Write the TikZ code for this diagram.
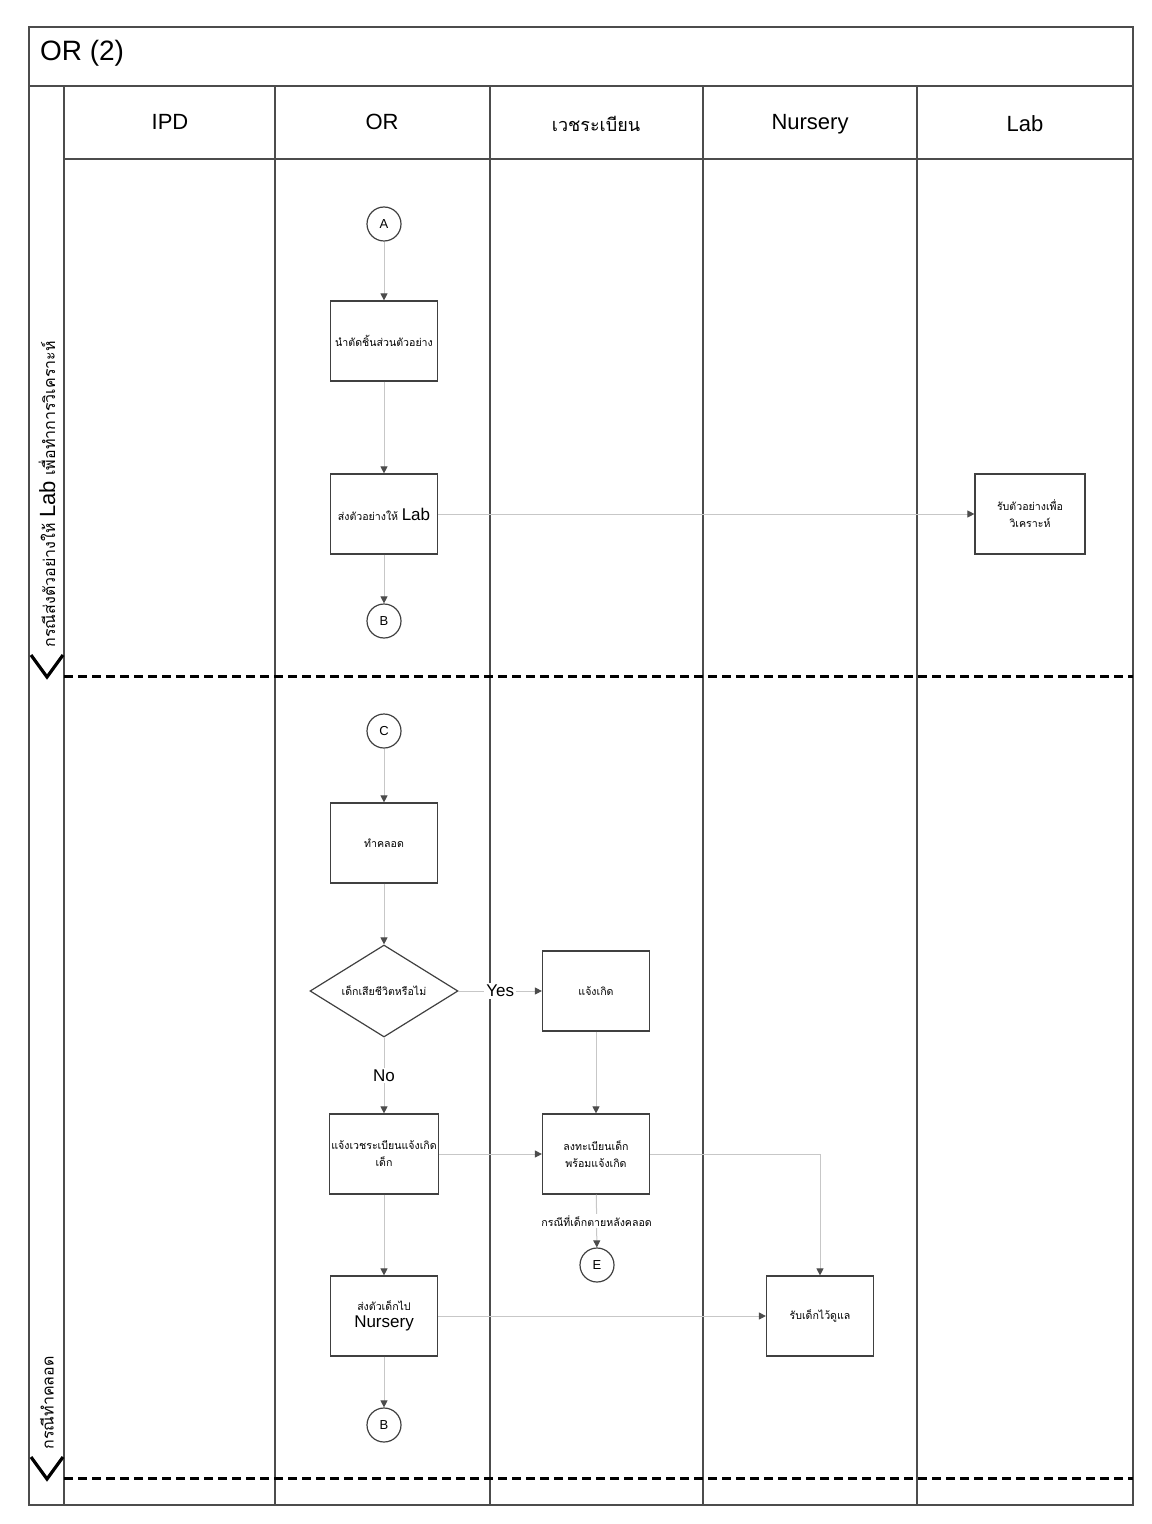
\documentclass[tikz,border=0pt]{standalone}
\usepackage{fontspec}
\setmainfont{Liberation Sans}
\newfontfamily\thaifont[Script=Thai]{Loma}
\usetikzlibrary{arrows.meta,positioning,shapes.geometric}
\newcommand{\boxfont}{\thaifont\fontsize{5.3}{8.5}\selectfont}
\newcommand{\latinfont}{\rmfamily\fontsize{8.5}{10}\selectfont}
\tikzset{
    lane line/.style={draw=black!70, line width=0.6pt},
    lane divider/.style={black, line width=1.5pt, dash pattern=on 4.5pt off 2.5pt},
    lane chevron/.style={black, line width=1.6pt},
    lane title/.style={font=\fontsize{11}{13}\selectfont},
    process/.style={rectangle, draw=black!75, line width=0.6pt, minimum width=53.5pt, minimum height=40pt, align=center, inner sep=1pt, font=\boxfont},
    connector/.style={circle, draw=black!75, line width=0.6pt, minimum size=17pt, inner sep=0pt, font=\fontsize{6.5}{7}\selectfont},
    decision/.style={diamond, draw=black!75, line width=0.6pt, minimum width=74pt, minimum height=46pt, aspect=1.6, inner sep=0pt, font=\boxfont},
    flow/.style={draw=black!22, line width=0.5pt, -{Triangle[length=3.5pt,width=3.5pt,color=black!70]}},
    flow label/.style={fill=white, inner sep=1pt},
}

\begin{document}
\begin{tikzpicture}[x=0.5pt, y=-0.5pt]
    \useasboundingbox (0,0) rectangle (1151,1524);

    % frame and lanes
    \draw[lane line] (29,27) rectangle (1133,1505);
    \draw[lane line] (29,86) -- (1133,86);
    \draw[lane line] (64,86) -- (64,1505);
    \draw[lane line] (64,159) -- (1133,159);
    \foreach \x in {275,490,703,917}
        \draw[lane line] (\x,86) -- (\x,1505);

    \node[anchor=west, font=\fontsize{14}{16}\selectfont] (title) at (33,53) {OR (2)};
    \node[lane title] (ipd) at (170,122) {IPD};
    \node[lane title] (or) at (382,122) {OR};
    \node[lane title] (records) at (596,124) {\thaifont\fontsize{9}{11}\selectfont เวชระเบียน};
    \node[lane title] (nursery) at (810,124) {Nursery};
    \node[lane title] (lab) at (1025,124) {Lab};

    % phases
    \draw[lane divider] (64,676) -- (1133,676);
    \draw[lane divider] (64,1478) -- (1133,1478);
    \draw[lane chevron] (31,655) -- (47,677) -- (63,655);
    \draw[lane chevron] (31,1457) -- (47,1479) -- (63,1457);
    \node[rotate=90, anchor=west, inner sep=0pt] (phaselab) at (47,648)
        {{\thaifont\fontsize{8}{9}\selectfont กรณีส่งตัวอย่างให้} {\fontsize{11}{12}\selectfont Lab} {\thaifont\fontsize{8}{9}\selectfont เพื่อทำการวิเคราะห์}};
    \node[rotate=90, anchor=west, inner sep=0pt] (phasebirth) at (47,1450)
        {\thaifont\fontsize{8}{9}\selectfont กรณีทำคลอด};

    % specimen
    \node[connector] (A) at (384,224) {A};
    \node[process] (cut) at (384,341) {นำตัดชิ้นส่วนตัวอย่าง};
    \node[process] (send) at (384,514) {ส่งตัวอย่างให้ {\latinfont Lab}};
    \node[connector] (B) at (384,621) {B};
    \node[process, minimum width=55pt] (analyse) at (1030,514) {รับตัวอย่างเพื่อ\\วิเคราะห์};

    % delivery
    \node[connector] (C) at (384,731) {C};
    \node[process] (deliver) at (384,843) {ทำคลอด};
    \node[decision] (dead) at (384,991) {เด็กเสียชีวิตหรือไม่};
    \node[process] (notify) at (596,991) {แจ้งเกิด};
    \node[process] (notifyrec) at (384,1154) {แจ้งเวชระเบียนแจ้งเกิด\\เด็ก};
    \node[process] (register) at (596,1154) {ลงทะเบียนเด็ก\\พร้อมแจ้งเกิด};
    \node[connector] (E) at (597,1265) {E};
    \node[process] (transfer) at (384,1316) {ส่งตัวเด็กไป\\{\latinfont Nursery}};
    \node[process] (receive) at (820,1316) {รับเด็กไว้ดูแล};
    \node[connector] (B2) at (384,1425) {B};

    \draw[flow] (A) -- (cut);
    \draw[flow] (cut) -- (send);
    \draw[flow] (send) -- (B);
    \draw[flow] (send) -- (analyse);
    \draw[flow] (C) -- (deliver);
    \draw[flow] (deliver) -- (dead);
    \draw[flow] (dead) -- node[flow label, font=\latinfont] (yes) {Yes} (notify);
    \draw[flow] (dead) -- node[flow label, font=\latinfont] (no) {No} (notifyrec);
    \draw[flow] (notify) -- (register);
    \draw[flow] (notifyrec) -- (register);
    \draw[flow] (register) -- node[flow label, font=\boxfont] (afterbirth) {กรณีที่เด็กตายหลังคลอด} (E);
    \draw[flow] (register.east) -| (receive.north);
    \draw[flow] (notifyrec) -- (transfer);
    \draw[flow] (transfer) -- (receive);
    \draw[flow] (transfer) -- (B2);
\end{tikzpicture}
\end{document}
